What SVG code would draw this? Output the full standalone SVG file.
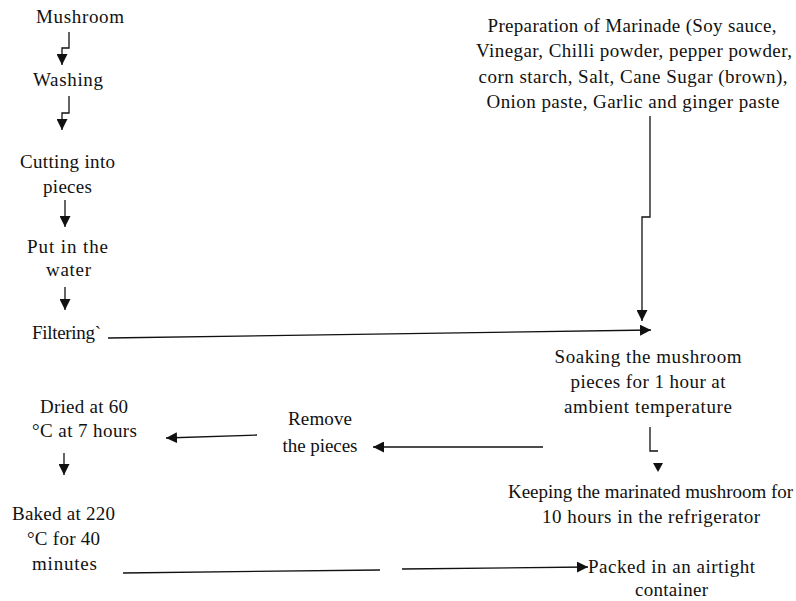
<svg xmlns="http://www.w3.org/2000/svg" width="796" height="601" viewBox="0 0 796 601">
<style>
text{font-family:"Liberation Serif","Times New Roman",serif;font-size:19px;fill:#111;text-anchor:middle}
.c{fill:none;stroke:#111;stroke-width:1.3}
.a{marker-end:url(#ah)}
</style>
<defs>
<marker id="ah" markerUnits="userSpaceOnUse" markerWidth="11" markerHeight="11" refX="10" refY="5" orient="auto" viewBox="0 0 10 10">
<path d="M0,0 L10,5 L0,10 z" fill="#111"/>
</marker>
</defs>
<rect width="796" height="601" fill="#fff"/>
<g id="connectors">
<path class="c a" d="M69,32 V48 H62 V65"/>
<path class="c a" d="M69,96 V113 H62 V130"/>
<path class="c a" d="M65,200 V227"/>
<path class="c a" d="M65,287 V310"/>
<path class="c a" d="M108,338 L651,330"/>
<path class="c a" d="M650,116 V217 H642 V321"/>
<path class="c" d="M650,427 V451 H658"/>
<polygon points="653,463 663,463 658,472" fill="#111"/>
<path class="c a" d="M543,447 H373"/>
<path class="c a" d="M257,435 L166,438"/>
<path class="c a" d="M64,453 V475"/>
<path class="c" d="M123,573 L380,570"/>
<path class="c a" d="M402,569 L588,567"/>
</g>
<g id="mushroom"><text x="80" y="23" textLength="88">Mushroom</text></g>
<g id="washing"><text x="68" y="86" textLength="70">Washing</text></g>
<g id="cutting"><text x="67.5" y="168" textLength="95">Cutting into</text><text x="67.5" y="193" textLength="49">pieces</text></g>
<g id="water"><text x="67.5" y="253" textLength="81">Put in the</text><text x="68.5" y="276" textLength="45">water</text></g>
<g id="filtering"><text x="66.5" y="339" textLength="69">Filtering`</text></g>
<g id="marinade">
<text x="632" y="32" textLength="289">Preparation of Marinade (Soy sauce,</text>
<text x="634" y="57" textLength="316">Vinegar, Chilli powder, pepper powder,</text>
<text x="633" y="83" textLength="309">corn starch, Salt, Cane Sugar (brown),</text>
<text x="633" y="108" textLength="293">Onion paste, Garlic and ginger paste</text>
</g>
<g id="soaking">
<text x="648" y="363" textLength="187">Soaking the mushroom</text>
<text x="648" y="388" textLength="155">pieces for 1 hour at</text>
<text x="648" y="413" textLength="168">ambient temperature</text>
</g>
<g id="remove"><text x="320" y="425" textLength="64">Remove</text><text x="320" y="452" textLength="75">the pieces</text></g>
<g id="dried"><text x="84" y="413" textLength="88">Dried at 60</text><text x="84.5" y="437" textLength="105">°C at 7 hours</text></g>
<g id="baked"><text x="63.5" y="520" textLength="103">Baked at 220</text><text x="63.5" y="545" textLength="73">°C for 40</text><text x="64.5" y="570" textLength="65">minutes</text></g>
<g id="keeping"><text x="650.5" y="498" textLength="285">Keeping the marinated mushroom for</text><text x="651" y="523" textLength="218">10 hours in the refrigerator</text></g>
<g id="packed"><text x="671.5" y="573" textLength="167">Packed in an airtight</text><text x="671.5" y="596" textLength="73">container</text></g>
</svg>
